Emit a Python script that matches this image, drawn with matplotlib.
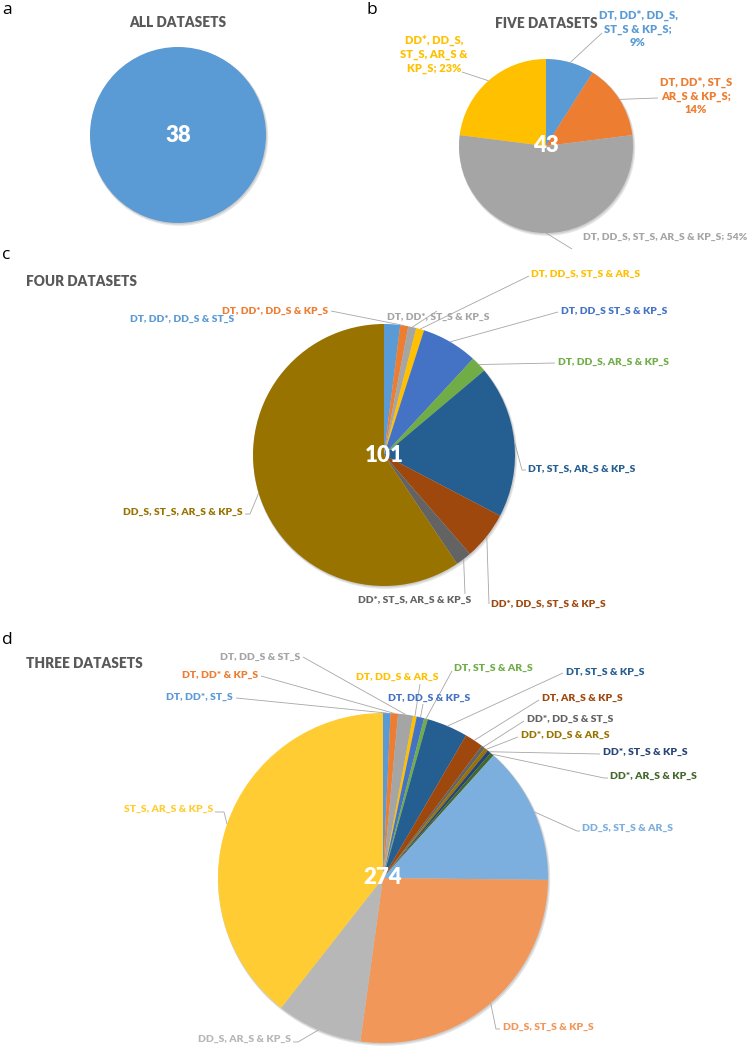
import matplotlib
matplotlib.use('Agg')
import matplotlib.pyplot as plt
import numpy as np
from matplotlib.patches import Circle

plt.rcParams['font.family'] = ['Lato', 'DejaVu Sans']

# ---------------- data ----------------
a_total = 38
a_values = [38]
a_colors = ['#5B9BD5']

b_total = 43
b_labels = ['DT, DD*, DD_S,\nST_S & KP_S;\n9%',
            'DT, DD*, ST_S\nAR_S & KP_S;\n14%',
            'DT, DD_S, ST_S, AR_S & KP_S; 54%',
            'DD*, DD_S,\nST_S, AR_S &\nKP_S; 23%']
b_values = [9, 14, 54, 23]
b_colors = ['#5B9BD5', '#ED7D31', '#A5A5A5', '#FFC000']

c_total = 101
c_labels = ['DT, DD*, DD_S & ST_S', 'DT, DD*, DD_S & KP_S', 'DT, DD*, ST_S & KP_S',
            'DT, DD_S, ST_S & AR_S', 'DT, DD_S ST_S & KP_S', 'DT, DD_S, AR_S & KP_S',
            'DT, ST_S, AR_S & KP_S', 'DD*, DD_S, ST_S & KP_S', 'DD*, ST_S, AR_S & KP_S',
            'DD_S, ST_S, AR_S & KP_S']
c_values = [2, 1, 1, 1, 7, 2, 19, 6, 2, 60]
c_colors = ['#5B9BD5', '#ED7D31', '#A5A5A5', '#FFC000', '#4472C4', '#70AD47',
            '#255E91', '#9E480E', '#636363', '#997300']

d_total = 274
d_labels = ['DT, DD*, ST_S', 'DT, DD* & KP_S', 'DT, DD_S & ST_S', 'DT, DD_S & AR_S',
            'DT, DD_S & KP_S', 'DT, ST_S & AR_S', 'DT, ST_S & KP_S', 'DT, AR_S & KP_S',
            'DD*, DD_S & ST_S', 'DD*, DD_S & AR_S', 'DD*, ST_S & KP_S', 'DD*, AR_S & KP_S',
            'DD_S, ST_S & AR_S', 'DD_S, ST_S & KP_S', 'DD_S, AR_S & KP_S', 'ST_S, AR_S & KP_S']
d_values = [2, 2, 4, 1, 2, 1, 11, 5, 1, 1, 1, 1, 37, 74, 23, 108]
d_colors = ['#5B9BD5', '#ED7D31', '#A5A5A5', '#FFC000', '#4472C4', '#70AD47',
            '#255E91', '#9E480E', '#636363', '#997300', '#264478', '#43682B',
            '#7CAFDD', '#F1975A', '#B7B7B7', '#FFCD33']

titles = ['ALL DATASETS', 'FIVE DATASETS', 'FOUR DATASETS', 'THREE DATASETS']
panel_letters = ['a', 'b', 'c', 'd']

# ---------------- layout (pixel coords, y downward) ----------------
W, H = 749, 1049
fig = plt.figure(figsize=(W / 100, H / 100), dpi=100)
ax = fig.add_axes([0, 0, 1, 1])


def Y(y):
    return H - y


LEAD = '#A6A6A6'
WEIGHT = 'heavy'


def draw_pie(values, colors, cx, cy, r):
    ax.add_patch(Circle((cx + 1.2, Y(cy) - 1.8), r + 1.0, color='#000000', alpha=0.10, lw=0, zorder=1))
    ax.add_patch(Circle((cx + 0.6, Y(cy) - 0.9), r + 0.5, color='#000000', alpha=0.10, lw=0, zorder=1))
    ax.pie(values, colors=colors, startangle=90, counterclock=False,
           center=(cx, Y(cy)), radius=r, frame=True,
           wedgeprops=dict(linewidth=0, zorder=2))


def anchors(values, cx, cy, r):
    v = np.asarray(values, float)
    cum = np.cumsum(v)
    mid = np.deg2rad((cum - v / 2) / v.sum() * 360.0)
    return cx + r * np.sin(mid), cy - r * np.cos(mid)


def leader(x0, y0, pts):
    xs = [x0] + [p[0] for p in pts]
    ys = [Y(y0)] + [Y(p[1]) for p in pts]
    ax.plot(xs, ys, color=LEAD, lw=0.6, zorder=3, solid_capstyle='butt')


def center_num(cx, cy, n):
    ax.text(cx, Y(cy), str(n), color='white', fontsize=16, fontweight=WEIGHT,
            ha='center', va='center', zorder=5)


# panel letters
for letter, (lx, ly) in zip(panel_letters, [(2, 10), (367, 10), (2, 255), (2, 640)]):
    ax.text(lx, Y(ly), letter, fontsize=12.5, family=['Open Sans', 'DejaVu Sans'],
            ha='left', va='center', color='black')

# titles
title_pos = [(178, 22.5, 'center'), (546, 23, 'center'), (26, 282, 'left'), (26, 664, 'left')]
for t, (tx, ty, ha) in zip(titles, title_pos):
    ax.text(tx, Y(ty), t, fontsize=9.8, fontweight=WEIGHT, color='#595959', ha=ha, va='center')

# ---- panel a ----
acx, acy, ar = 178, 135, 88
draw_pie(a_values, a_colors, acx, acy, ar)
center_num(acx, acy, a_total)

# ---- panel b ----
bcx, bcy, br = 546, 146, 87
draw_pie(b_values, b_colors, bcx, bcy, br)
center_num(bcx, bcy, b_total)
b_text = [(638, 29, 'center'), (696, 96, 'center'), (747, 237, 'right'), (434, 54, 'center')]
b_lead = [[(602, 33)], [(658, 98)], [(572, 249)], [(462, 72)]]
b_size = [8.0, 8.0, 7.4, 8.0]
bx, by = anchors(b_values, bcx, bcy, br)
for i, lab in enumerate(b_labels):
    tx, ty, ha = b_text[i]
    ax.text(tx, Y(ty), lab, color=b_colors[i], fontsize=b_size[i], fontweight=WEIGHT,
            ha=ha, va='center', multialignment='center', linespacing=1.3, zorder=4)
    leader(bx[i], by[i], b_lead[i])

# ---- panel c ----
ccx, ccy, cr = 384, 455, 131
draw_pie(c_values, c_colors, ccx, ccy, cr)
center_num(ccx, ccy, c_total)
c_text = [(234, 319, 'right'), (328, 311, 'right'), (387, 317, 'left'),
          (531, 274, 'left'), (561, 311, 'left'), (558, 362, 'left'),
          (528, 469, 'left'), (491, 604, 'left'), (471, 600, 'right'),
          (243, 512, 'right')]
c_lead = [None, [(331, 311)], [(437, 311)], [(529, 276)], [(558, 312)],
          [(555, 363)], [(522, 470), (526, 470)], [(489, 604)],
          [(465, 594)], [(250, 514), (245, 514)]]
cxs, cys = anchors(c_values, ccx, ccy, cr)
for i, lab in enumerate(c_labels):
    tx, ty, ha = c_text[i]
    ax.text(tx, Y(ty), lab, color=c_colors[i], fontsize=7.4, fontweight=WEIGHT,
            ha=ha, va='center', zorder=4)
    if c_lead[i] is not None:
        leader(cxs[i], cys[i], c_lead[i])

# ---- panel d ----
dcx, dcy, dr = 383, 878, 165
draw_pie(d_values, d_colors, dcx, dcy, dr)
center_num(dcx, dcy, d_total)
d_text = [(233, 697, 'right'), (258, 675, 'right'), (300, 657, 'right'),
          (356, 677, 'left'), (388, 698, 'left'), (454, 668, 'left'),
          (566, 672, 'left'), (542, 698, 'left'), (527, 719, 'left'),
          (521, 735, 'left'), (603, 752, 'left'), (610, 776, 'left'),
          (582, 828, 'left'), (503, 1027, 'left'), (291, 1039, 'right'),
          (213, 809, 'right')]
d_lead = [[(236, 698)], [(261, 676)], [(303, 657)], [(420, 684)],
          [(423, 704)], [(452, 671)], [(563, 673)], [(539, 700)],
          [(524, 721)], [(518, 737)], [(600, 754)], [(604, 778), (608, 778)],
          [(577, 831), (580, 831)], [(496, 1029), (500, 1029)],
          [(298, 1042), (293, 1042)], [(224, 812), (215, 812)]]
dxs, dys = anchors(d_values, dcx, dcy, dr)
for i, lab in enumerate(d_labels):
    tx, ty, ha = d_text[i]
    ax.text(tx, Y(ty), lab, color=d_colors[i], fontsize=7.5, fontweight=WEIGHT,
            ha=ha, va='center', zorder=4)
    leader(dxs[i], dys[i], d_lead[i])

ax.set_xlim(0, W)
ax.set_ylim(0, H)
ax.set_aspect('auto')
ax.axis('off')
fig.savefig('out.png', dpi=100, facecolor='white')
